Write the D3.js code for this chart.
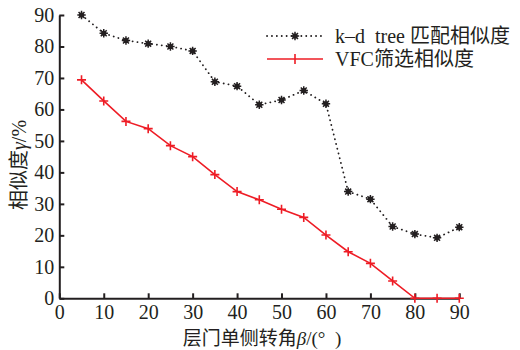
<!DOCTYPE html>
<html><head><meta charset="utf-8">
<script src="https://cdn.jsdelivr.net/npm/d3@7"></script>
<style>
body{margin:0;background:#fff;}
text{font-family:"Liberation Serif","Times New Roman","Noto Sans CJK SC",serif;fill:#231f20;white-space:pre;}
</style></head><body>
<svg id="c" width="520" height="350"></svg>
<script>
const angles = [5,10,15,20,25,30,35,40,45,50,55,60,65,70,75,80,85,90];
const kdTree = [90,84.2,81.9,80.9,80.0,78.6,68.8,67.4,61.5,63.0,66.0,61.8,33.9,31.5,22.8,20.4,19.2,22.6];
const vfc    = [69.4,62.7,56.2,53.9,48.5,45.0,39.3,33.9,31.3,28.3,25.7,20.1,14.8,11.1,5.5,0,0,0];
const xTicks = [0,10,20,30,40,50,60,70,80,90];
const yTicks = [0,10,20,30,40,50,60,70,80,90];
const seriesNames = ["k–d  tree 匹配相似度","VFC筛选相似度"];

const svg = d3.select("#c");
const x = d3.scaleLinear().domain([0,90]).range([59.3,459.3]);
const y = d3.scaleLinear().domain([0,90]).range([298.3,15]);
const ink = "#231f20";

const gx = svg.append("g").attr("transform",`translate(0,${y(0)})`)
  .call(d3.axisBottom(x).tickValues(xTicks).tickSizeInner(-5).tickSizeOuter(0).tickPadding(7));
const gy = svg.append("g").attr("transform",`translate(${x(0)},0)`)
  .call(d3.axisLeft(y).tickValues(yTicks).tickSizeInner(-5).tickSizeOuter(0).tickPadding(8));
[gx,gy].forEach(g=>{
  g.select(".domain").attr("stroke",ink).attr("stroke-width",2);
  g.selectAll(".tick line").attr("stroke",ink).attr("stroke-width",2);
  g.selectAll(".tick text").attr("font-size",20).attr("font-family","Liberation Serif, serif").attr("fill",ink);
});
gx.selectAll(".tick text").attr("dy","0.68em");
gy.selectAll(".tick text").attr("dx","3");

const line = d3.line().x((d,i)=>x(angles[i])).y(d=>y(d));

// VFC red
svg.append("path").datum(vfc).attr("d",line).attr("fill","none")
  .attr("stroke","#ee1c25").attr("stroke-width",1.6);
function plus(g,cx,cy,s){
  g.append("path").attr("d",`M${cx-s},${cy}H${cx+s}M${cx},${cy-s}V${cy+s}`)
   .attr("stroke","#ee1c25").attr("stroke-width",1.6).attr("fill","none");
}
vfc.forEach((v,i)=>plus(svg,x(angles[i]),y(v),4.5));

// kd black dotted
svg.append("path").datum(kdTree).attr("d",line).attr("fill","none")
  .attr("stroke",ink).attr("stroke-width",1.8).attr("stroke-linecap","round")
  .attr("stroke-dasharray","0.1 4.8");
function star(g,cx,cy){
  const s=4.2;
  let d="";
  for(let k=0;k<4;k++){const a=k*Math.PI/4;const dx=s*Math.cos(a),dy=s*Math.sin(a);d+=`M${cx-dx},${cy-dy}L${cx+dx},${cy+dy}`;}
  g.append("path").attr("d",d).attr("stroke",ink).attr("stroke-width",1.5);
  g.append("circle").attr("cx",cx).attr("cy",cy).attr("r",2.6).attr("fill",ink);
}
kdTree.forEach((v,i)=>star(svg,x(angles[i]),y(v)));

// legend
const lg = svg.append("g");
lg.append("line").attr("x1",267).attr("x2",323).attr("y1",36).attr("y2",36)
  .attr("stroke",ink).attr("stroke-width",1.8).attr("stroke-linecap","round").attr("stroke-dasharray","0.1 4.8");
star(lg,295,36);
lg.append("text").attr("x",335).attr("y",43).attr("font-size",20).text(seriesNames[0]);
lg.append("line").attr("x1",267).attr("x2",323).attr("y1",59).attr("y2",59)
  .attr("stroke","#ee1c25").attr("stroke-width",1.6);
lg.append("path").attr("d","M295,54V64").attr("stroke","#ee1c25").attr("stroke-width",1.6);
lg.append("text").attr("x",335).attr("y",66).attr("font-size",20).text(seriesNames[1]);

// axis titles
svg.append("text").attr("x",262).attr("y",345).attr("text-anchor","middle").attr("font-size",19)
  .html('层门单侧转角<tspan font-style="italic">β</tspan>/(°  )');
svg.append("text").attr("transform","translate(26,165) rotate(-90)").attr("text-anchor","middle").attr("font-size",20)
  .html('相似度<tspan font-style="italic">γ</tspan>/%');
</script></body></html>
